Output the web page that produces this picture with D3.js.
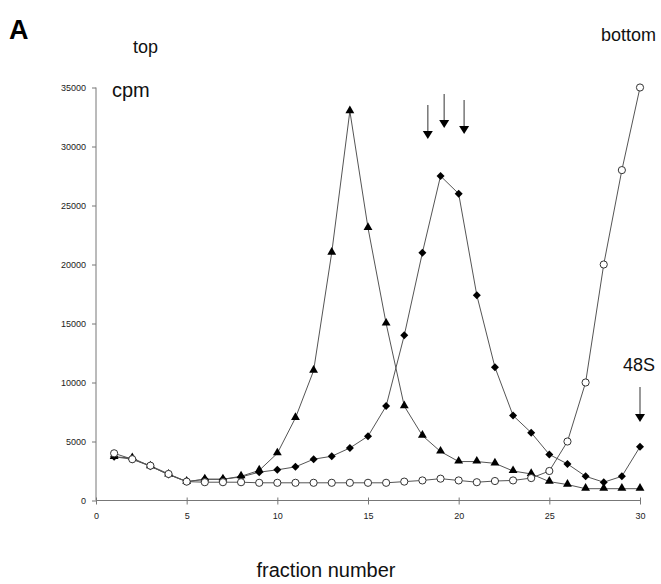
<!DOCTYPE html>
<html><head><meta charset="utf-8">
<script src="https://cdn.jsdelivr.net/npm/d3@7"></script>
<style>body{margin:0;background:#fff}svg{display:block}</style>
</head><body>
<svg id="c" width="661" height="584"></svg>
<script>
const fractions = d3.range(1, 31);
const triangleSeries = [3700,3600,2900,2200,1600,1800,1800,2050,2550,4000,7000,11000,21000,33000,23100,15000,8000,5500,4150,3300,3300,3150,2500,2250,1600,1350,1000,1000,1000,1000];
const diamondSeries  = [3700,3500,2900,2200,1600,1800,1800,2000,2400,2600,2850,3500,3750,4450,5450,8000,14000,21000,27500,26000,17400,11300,7200,5750,3900,3100,2050,1550,2050,4550];
const circleSeries   = [4000,3500,2950,2250,1600,1550,1550,1550,1500,1500,1500,1500,1500,1500,1500,1500,1600,1700,1850,1700,1550,1650,1700,1900,2500,5000,10000,20000,28000,35000];
const xTicks = [0,5,10,15,20,25,30];
const yTicks = [0,5000,10000,15000,20000,25000,30000,35000];
const arrowFractions = [18.3, 19.2, 20.3];
const arrowTops = [105, 94, 100];

const svg = d3.select("#c");
const x = d3.scaleLinear().domain([0,30]).range([96,640]);
const y = d3.scaleLinear().domain([0,35000]).range([500.5,87.5]);
const font = "'Liberation Sans', Arial, sans-serif";
const axCol = "#777";

// y axis
const ya = svg.append("g").attr("transform","translate(96,0)")
  .call(d3.axisLeft(y).tickValues(yTicks).tickSize(4).tickPadding(6).tickFormat(d3.format("d")));
ya.selectAll("path,line").attr("stroke",axCol);
ya.selectAll("text").attr("font-family",font).attr("font-size",9).attr("fill","#222");
ya.select(".domain").attr("d","M0,500.5V87.5");

// x axis
const xa = svg.append("g").attr("transform","translate(0,500.5)")
  .call(d3.axisBottom(x).tickValues(xTicks).tickSize(4).tickPadding(8).tickFormat(d3.format("d")));
xa.selectAll("path,line").attr("stroke",axCol);
xa.selectAll(".tick line").attr("y1",-3);
xa.select(".domain").attr("d","M96,0H640");
xa.selectAll("text").attr("font-family",font).attr("font-size",9).attr("fill","#222");

const line = d3.line().x((d,i)=>x(fractions[i])).y(d=>y(d));
const lineCol = "#555";
[triangleSeries, diamondSeries, circleSeries].forEach(s=>{
  svg.append("path").datum(s).attr("d",line).attr("fill","none").attr("stroke",lineCol).attr("stroke-width",1);
});

// markers
svg.append("g").selectAll("path").data(triangleSeries).join("path")
  .attr("d", d3.symbol().type(d3.symbolTriangle).size(34))
  .attr("transform",(d,i)=>`translate(${x(fractions[i])},${y(d)-0.5})`).attr("fill","#000");
svg.append("g").selectAll("path").data(diamondSeries).join("path")
  .attr("d", "M0,-4L4,0L0,4L-4,0Z")
  .attr("transform",(d,i)=>`translate(${x(fractions[i])},${y(d)})`).attr("fill","#000");
svg.append("g").selectAll("circle").data(circleSeries).join("circle")
  .attr("cx",(d,i)=>x(fractions[i])).attr("cy",d=>y(d)).attr("r",3.6)
  .attr("fill","#fff").attr("stroke","#333").attr("stroke-width",1);

// arrows
function arrow(ax, y0, y1){
  svg.append("line").attr("x1",ax).attr("x2",ax).attr("y1",y0).attr("y2",y1-7).attr("stroke","#555").attr("stroke-width",1.2);
  svg.append("path").attr("d",`M${ax-5},${y1-8}L${ax+5},${y1-8}L${ax},${y1}Z`).attr("fill","#000");
}
arrowFractions.forEach((f,i)=>arrow(x(f), arrowTops[i], arrowTops[i]+34));
arrow(x(30), 387, 422);

// texts
svg.append("text").attr("x",9).attr("y",39).text("A").attr("font-family",font).attr("font-weight","bold").attr("font-size",27);
svg.append("text").attr("x",133).attr("y",53).text("top").attr("font-family",font).attr("font-size",18).attr("fill","#111");
svg.append("text").attr("x",112).attr("y",97).text("cpm").attr("font-family",font).attr("font-size",20).attr("fill","#111");
svg.append("text").attr("x",656).attr("y",41).attr("text-anchor","end").text("bottom").attr("font-family",font).attr("font-size",18).attr("fill","#111");
svg.append("text").attr("x",639).attr("y",371).attr("text-anchor","middle").text("48S").attr("font-family",font).attr("font-size",18).attr("fill","#111");
svg.append("text").attr("x",326).attr("y",577).attr("text-anchor","middle").text("fraction number").attr("font-family",font).attr("font-size",20).attr("fill","#111");
</script>
</body></html>
